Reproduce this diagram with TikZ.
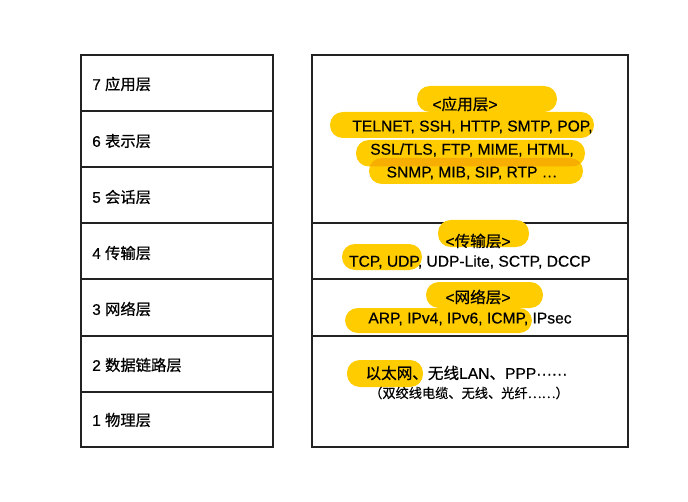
\documentclass[tikz,border=0pt]{standalone}
\usepackage{fontspec}
\setmainfont{Liberation Sans}[FakeBold=0.5]
\newfontfamily\cjk{Noto Sans CJK SC}[FakeBold=0.6]
\definecolor{hlyellow}{HTML}{FFCC00}
\definecolor{hlorange}{HTML}{F7AE00}
\definecolor{boxline}{HTML}{222222}
\tikzset{
  boxframe/.style={draw=boxline, line width=1.1pt},
  sepline/.style={draw=boxline, line width=1pt},
  hl/.style={fill=hlyellow, rounded corners=9.6pt},
  hlover/.style={fill=hlorange, rounded corners=9.6pt},
  lbl/.style={inner sep=0pt, anchor=west, font=\fontsize{11.5pt}{13pt}\selectfont},
  txt/.style={inner sep=0pt, anchor=center, font=\fontsize{11.7pt}{13pt}\selectfont},
  small/.style={inner sep=0pt, anchor=center, font=\fontsize{9.9pt}{11pt}\selectfont},
}
\begin{document}
\begin{tikzpicture}[x=0.75pt, y=-0.75pt]
\useasboundingbox (0,0) rectangle (688,502);
% left box
\draw[boxframe] (81,55) rectangle (273,447);
\foreach \yy in {111,167,223,279,336,392} \draw[sepline] (81,\yy) -- (273,\yy);
% right box
\draw[boxframe] (312,55) rectangle (628,447);
\foreach \yy in {223,279,336} \draw[sepline] (312,\yy) -- (628,\yy);
% highlights
\fill[hl] (417,86) rectangle (557,112);
\fill[hl] (330,112) rectangle (594,138);
\fill[hl] (356,140) rectangle (585,166.5);
\fill[hl] (369,158) rectangle (583,184);
\begin{scope}
  \clip[rounded corners=9.6pt] (356,140) rectangle (585,166.5);
  \fill[hlover] (369,158) rectangle (583,184);
\end{scope}
\fill[hl] (438,220) rectangle (529,247);
\fill[hl] (342,244) rectangle (422,270);
\fill[hl] (426,282) rectangle (543,308);
\fill[hl] (345,308) rectangle (532,333);
\fill[hl] (347,360) rectangle (423,387);
% left labels
\node[lbl] (l7) at (92,84) {7 {\cjk 应用层}};
\node[lbl] (l6) at (92,141) {6 {\cjk 表示层}};
\node[lbl] (l5) at (92,197) {5 {\cjk 会话层}};
\node[lbl] (l4) at (92,253) {4 {\cjk 传输层}};
\node[lbl] (l3) at (92,309) {3 {\cjk 网络层}};
\node[lbl] (l2) at (92,365) {2 {\cjk 数据链路层}};
\node[lbl] (l1) at (92,420) {1 {\cjk 物理层}};
% application layer
\node[txt] (app) at (465,104) {<{\cjk 应用层}>};
\node[txt] (app1) at (472.5,127) {TELNET, SSH, HTTP, SMTP, POP,};
\node[txt] (app2) at (472,150) {SSL/TLS, FTP, MIME, HTML,};
\node[txt] (app3) at (472,173) {SNMP, MIB, SIP, RTP …};
% transport layer
\node[txt] (tr) at (478,241) {<{\cjk 传输层}>};
\node[txt] (tr1) at (470,262) {TCP, UDP, UDP-Lite, SCTP, DCCP};
% network layer
\node[txt] (nw) at (478,297) {<{\cjk 网络层}>};
\node[txt] (nw1) at (470,319) {ARP, IPv4, IPv6, ICMP, IPsec};
% link layer
\node[txt] (lk) at (466.5,373) {{\cjk 以太网、无线}LAN{\cjk 、}PPP······};
\node[small] (lk1) at (469,393) {{\cjk （双绞线电缆、无线、光纤……）}};
\end{tikzpicture}
\end{document}
